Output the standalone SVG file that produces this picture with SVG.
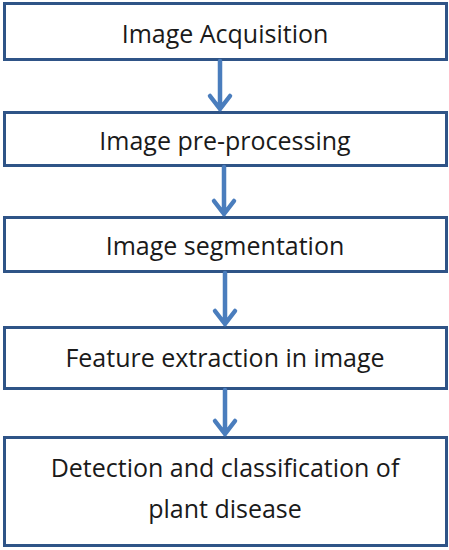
<svg xmlns="http://www.w3.org/2000/svg" width="449" height="550" viewBox="0 0 449 550">
<style>
.box{fill:#fff;stroke:#2f5487;stroke-width:3}
.t{font-family:"Open Sans","Liberation Sans",sans-serif;font-size:25px;fill:#1a1a1a;text-anchor:middle}
.c{fill:none;stroke:#4a7dbd;stroke-width:4.5;stroke-linecap:round;stroke-linejoin:round}
</style>
<rect width="449" height="550" fill="#fff"/>
<g id="n1"><rect class="box" x="4.5" y="3.5" width="442" height="56"/><text class="t" x="225" y="43">Image Acquisition</text></g>
<g id="n2"><rect class="box" x="4.5" y="112.5" width="442" height="53"/><text class="t" x="225" y="150">Image pre-processing</text></g>
<g id="n3"><rect class="box" x="4.5" y="217.5" width="442" height="54"/><text class="t" x="225" y="255">Image segmentation</text></g>
<g id="n4"><rect class="box" x="4.5" y="327.5" width="442" height="61"/><text class="t" x="225" y="367">Feature extraction in image</text></g>
<g id="n5"><rect class="box" x="4.5" y="437.5" width="442" height="108"/><text class="t" x="225" y="477">Detection and classification of</text><text class="t" x="225" y="518">plant disease</text></g>
<g id="connectors">
<path class="c" d="M220 61V109M210 96L220 109L230 96"/>
<path class="c" d="M224 167V214M214 201L224 214L234 201"/>
<path class="c" d="M225 273V324M215 311L225 324L235 311"/>
<path class="c" d="M225 390V434M215 421L225 434L235 421"/>
</g>
</svg>
